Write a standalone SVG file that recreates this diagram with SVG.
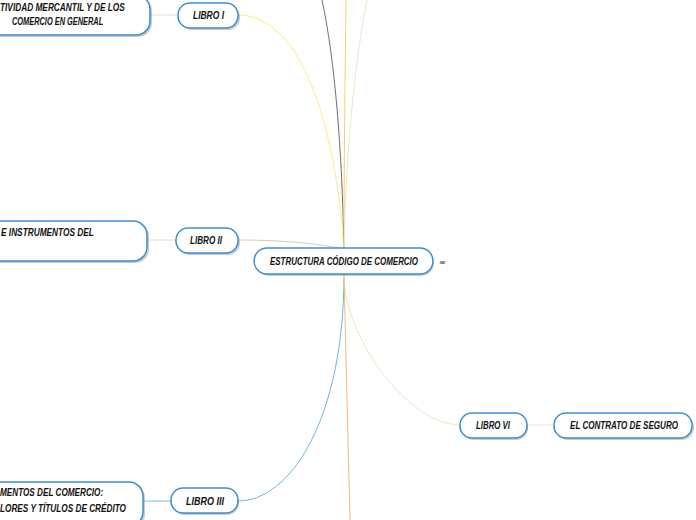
<svg xmlns="http://www.w3.org/2000/svg" width="696" height="520" viewBox="0 0 696 520">
<style>
.node{fill:#fff;stroke:#3a8fd4;stroke-width:1.5}
.sh{fill:#9a9a9a;opacity:0.5}
.t{font-family:"Liberation Sans",Arial,sans-serif;font-size:10px;font-weight:bold;font-style:italic;fill:#111}
.c{fill:none;stroke-width:1}
</style>
<rect width="696" height="520" fill="#fff"/>
<g id="connectors">
<path class="c" d="M238,15 C300,15 335,120 344,249" stroke="#ffec85"/>
<path class="c" d="M322,0 C335,60 342,150 344,249" stroke="#707070"/>
<path class="c" d="M346,0 C345,80 344,160 344,249" stroke="#ffcb6e"/>
<path class="c" d="M367,0 C355,60 346,150 344,249" stroke="#e8e8cc"/>
<path class="c" d="M238,240 C290,240 325,245 344,249" stroke="#d9cbb3"/>
<path class="c" d="M344,274 C344,420 290,501 238,501" stroke="#6fb6e2"/>
<path class="c" d="M344,274 C344,340 410,425 460,425" stroke="#f5e3c4"/>
<path class="c" d="M344,274 C346,360 348,440 350,520" stroke="#f7b978"/>
<path class="c" d="M150,15 L178,15" stroke="#e0e0e0"/>
<path class="c" d="M147,240 L176,240" stroke="#e2dbcf"/>
<path class="c" d="M143,501 L171,501" stroke="#7fbde5"/>
<path class="c" d="M527,425 L554,425" stroke="#f5e7d2"/>
</g>
<g id="central">
<rect class="sh" x="256" y="250" width="178" height="26" rx="13"/>
<rect class="node" x="254" y="248" width="179" height="26" rx="13"/>
<text class="t" transform="translate(270,265) scale(0.8,1)" textLength="185" lengthAdjust="spacingAndGlyphs">ESTRUCTURA CÓDIGO DE COMERCIO</text>
<text x="439" y="265" font-family="'DejaVu Sans',sans-serif" font-size="8" fill="#333">≡</text>
</g>
<g id="libro1">
<rect class="sh" x="180" y="5" width="60" height="25" rx="12"/>
<rect class="node" x="178" y="3" width="60" height="25" rx="12"/>
<text class="t" transform="translate(193,19) scale(0.8,1)" textLength="38.75" lengthAdjust="spacingAndGlyphs">LIBRO I</text>
</g>
<g id="libro1-detail">
<rect class="sh" x="-30" y="-3" width="182" height="40" rx="14"/>
<rect class="node" x="-32" y="-5" width="182" height="40" rx="14"/>
<text class="t" transform="translate(0,10.5) scale(0.8,1)" textLength="156" lengthAdjust="spacingAndGlyphs">TIVIDAD MERCANTIL Y DE LOS</text>
<text class="t" transform="translate(12,25) scale(0.8,1)" textLength="114" lengthAdjust="spacingAndGlyphs">COMERCIO EN GENERAL</text>
</g>
<g id="libro2">
<rect class="sh" x="178" y="230" width="62" height="25" rx="12"/>
<rect class="node" x="176" y="228" width="62" height="25" rx="12"/>
<text class="t" transform="translate(190,244) scale(0.8,1)" textLength="40" lengthAdjust="spacingAndGlyphs">LIBRO II</text>
</g>
<g id="libro2-detail">
<rect class="sh" x="-28" y="223" width="177" height="40" rx="14"/>
<rect class="node" x="-30" y="221" width="177" height="40" rx="14"/>
<text class="t" transform="translate(1,236) scale(0.8,1)" textLength="116" lengthAdjust="spacingAndGlyphs">E INSTRUMENTOS DEL</text>
</g>
<g id="libro3">
<rect class="sh" x="173" y="490" width="66" height="25" rx="12"/>
<rect class="node" x="171" y="488" width="67" height="25" rx="12"/>
<text class="t" transform="translate(186,504.5) scale(0.8,1)" textLength="47.5" lengthAdjust="spacingAndGlyphs">LIBRO III</text>
</g>
<g id="libro3-detail">
<rect class="sh" x="-28" y="484" width="173" height="44" rx="14"/>
<rect class="node" x="-30" y="482" width="173" height="44" rx="14"/>
<text class="t" transform="translate(0,496) scale(0.8,1)" textLength="129" lengthAdjust="spacingAndGlyphs">MENTOS DEL COMERCIO:</text>
<text class="t" transform="translate(0,512) scale(0.8,1)" textLength="157.5" lengthAdjust="spacingAndGlyphs">LORES Y TÍTULOS DE CRÉDITO</text>
</g>
<g id="libro6">
<rect class="sh" x="462" y="415" width="66" height="25" rx="12"/>
<rect class="node" x="460" y="413" width="67" height="25" rx="12"/>
<text class="t" transform="translate(476,429) scale(0.8,1)" textLength="42.5" lengthAdjust="spacingAndGlyphs">LIBRO VI</text>
</g>
<g id="libro6-detail">
<rect class="sh" x="556" y="415" width="138" height="25" rx="12"/>
<rect class="node" x="554" y="413" width="138" height="25" rx="12"/>
<text class="t" transform="translate(570,429) scale(0.8,1)" textLength="135" lengthAdjust="spacingAndGlyphs">EL CONTRATO DE SEGURO</text>
</g>
</svg>
